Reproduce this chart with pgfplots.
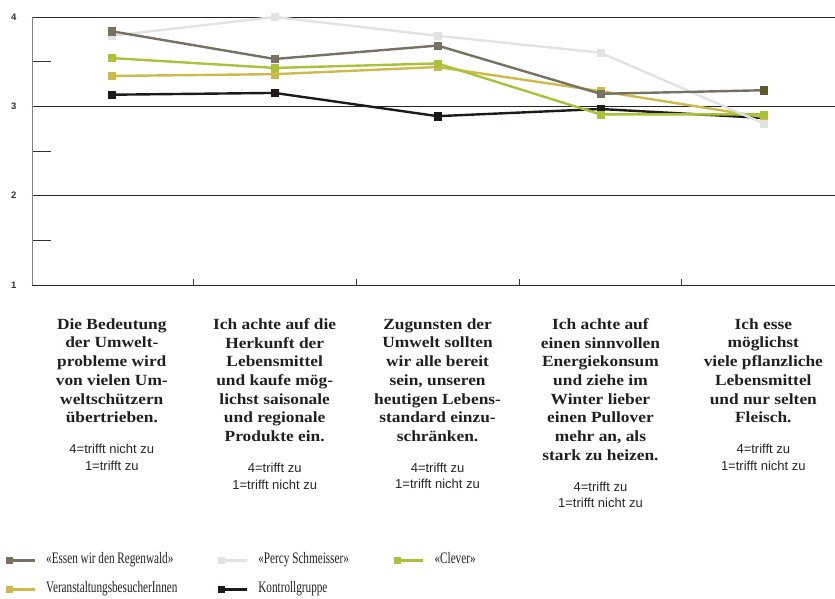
\documentclass[border=0pt]{standalone}
\usepackage{fontspec}
\usepackage{pgfplots}
\pgfplotsset{compat=1.18}
\setmainfont{Liberation Serif}
\newfontfamily\labfont[FakeStretch=1.12]{Liberation Serif}
\newfontfamily\legfont[FakeStretch=0.7]{Liberation Serif}
\newfontfamily\subfont{Liberation Sans}
\definecolor{cEssen}{HTML}{767163}
\definecolor{cEssenDark}{HTML}{595A28}
\definecolor{cPercy}{HTML}{E2E2E2}
\definecolor{cClever}{HTML}{AAC23A}
\definecolor{cVer}{HTML}{CBBB4C}
\definecolor{cKon}{HTML}{1E1A1A}
\definecolor{cText}{HTML}{231F20}
\newcommand\sub[1]{{\subfont\mdseries\fontsize{13}{17}\selectfont\color{black!85}#1}}
\begin{document}
\begin{tikzpicture}
\path[use as bounding box] (0,0) rectangle (835pt,599pt);
\begin{axis}[
  at={(32pt,314pt)}, anchor=south west,
  scale only axis, width=803pt, height=268pt,
  xmin=-0.49, xmax=4.44, ymin=1, ymax=4,
  clip=false,
  /pgf/number format/assume math mode=true,
  axis x line*=bottom, axis y line*=left,
  x axis line style={-, draw=black!85, line width=0.8pt},
  y axis line style={-, draw=black!50, line width=0.8pt},
  tick align=inside,
  xtick={0.5,1.5,2.5,3.5}, xticklabels={},
  major tick length=6pt, minor tick length=19pt,
  ytick={1,2,3,4}, minor ytick={1.5,2.5,3.5},
  ymajorgrids, grid style={draw=black!85, line width=0.8pt},
  tick style={draw=black!80, line width=0.8pt},
  yticklabel style={font=\subfont\bfseries\fontsize{9.5}{10}\selectfont, text=black!80, xshift=-12pt},
  xticklabel style={anchor=north, align=center, yshift=-30pt,
     font=\fontsize{15.5}{18.7}\selectfont\labfont\bfseries, text=cText},
  extra x ticks={0,1,2,3,4},
  extra x tick style={major tick length=0pt},
  extra x tick labels={
    {Die Bedeutung\\der Umwelt-\\probleme wird\\von vielen Um-\\weltschützern\\übertrieben.\\[12pt]\sub{4=trifft nicht zu}\\[-2pt]\sub{1=trifft zu}},
    {Ich achte auf die\\Herkunft der\\Lebensmittel\\und kaufe mög-\\lichst saisonale\\und regionale\\Produkte ein.\\[12pt]\sub{4=trifft zu}\\[-2pt]\sub{1=trifft nicht zu}},
    {Zugunsten der\\Umwelt sollten\\wir alle bereit\\sein, unseren\\heutigen Lebens-\\standard einzu-\\schränken.\\[12pt]\sub{4=trifft zu}\\[-2pt]\sub{1=trifft nicht zu}},
    {Ich achte auf\\einen sinnvollen\\Energiekonsum\\und ziehe im\\Winter lieber\\einen Pullover\\mehr an, als\\stark zu heizen.\\[12pt]\sub{4=trifft zu}\\[-2pt]\sub{1=trifft nicht zu}},
    {Ich esse\\möglichst\\viele pflanzliche\\Lebensmittel\\und nur selten\\Fleisch.\\[12pt]\sub{4=trifft zu}\\[-2pt]\sub{1=trifft nicht zu}}
  },
  legend columns=3,
  legend cell align=left,
  legend style={at={(-0.0324,-1.003)}, anchor=north west, draw=none, fill=none,
    inner sep=0pt, outer sep=0pt, row sep=16pt,
    font=\legfont\fontsize{16}{18}\selectfont, text=cText,
    nodes={inner sep=0pt, text height=10pt, text depth=3pt},
    /tikz/every odd column/.append style={column sep=10pt}},
  legend image code/.code={\draw[#1, mark repeat=2, mark phase=1, mark size=3pt] plot coordinates {(3pt,0pt) (29pt,0pt)};},
  every axis plot/.append style={line width=2.4pt, mark=square*, mark size=3.6pt, mark options={solid, line width=0.4pt}}
]
\addlegendimage{cEssen, line width=2.4pt, mark=square*, mark options={solid, line width=0.4pt}}
\addlegendentry{\makebox[172pt][l]{«Essen wir den Regenwald»}}
\addlegendimage{cPercy, line width=2.4pt, mark=square*, mark options={solid, line width=0.4pt}}
\addlegendentry{\makebox[136pt][l]{«Percy Schmeisser»}}
\addlegendimage{cClever, line width=2.4pt, mark=square*, mark options={solid, line width=0.4pt}}
\addlegendentry{«Clever»}
\addlegendimage{cVer, line width=2.4pt, mark=square*, mark options={solid, line width=0.4pt}}
\addlegendentry{\makebox[172pt][l]{VeranstaltungsbesucherInnen}}
\addlegendimage{cKon, line width=2.4pt, mark=square*, mark options={solid, line width=0.4pt}}
\addlegendentry{\makebox[136pt][l]{Kontrollgruppe}}

\addplot[cKon, forget plot] coordinates {(0,3.13) (1,3.15) (2,2.89) (3,2.97) (4,2.87)};
\addplot[cVer, forget plot] coordinates {(0,3.34) (1,3.36) (2,3.44) (3,3.17) (4,2.88)};
\addplot[cClever, forget plot] coordinates {(0,3.54) (1,3.43) (2,3.48) (3,2.91) (4,2.91)};
\addplot[cPercy, forget plot] coordinates {(0,3.79) (1,4.00) (2,3.79) (3,3.60) (4,2.81)};
\addplot[cEssen, forget plot] coordinates {(0,3.84) (1,3.53) (2,3.68) (3,3.14) (4,3.18)};
\addplot[cEssenDark, only marks, forget plot] coordinates {(4,3.18)};
\end{axis}
\end{tikzpicture}
\end{document}
